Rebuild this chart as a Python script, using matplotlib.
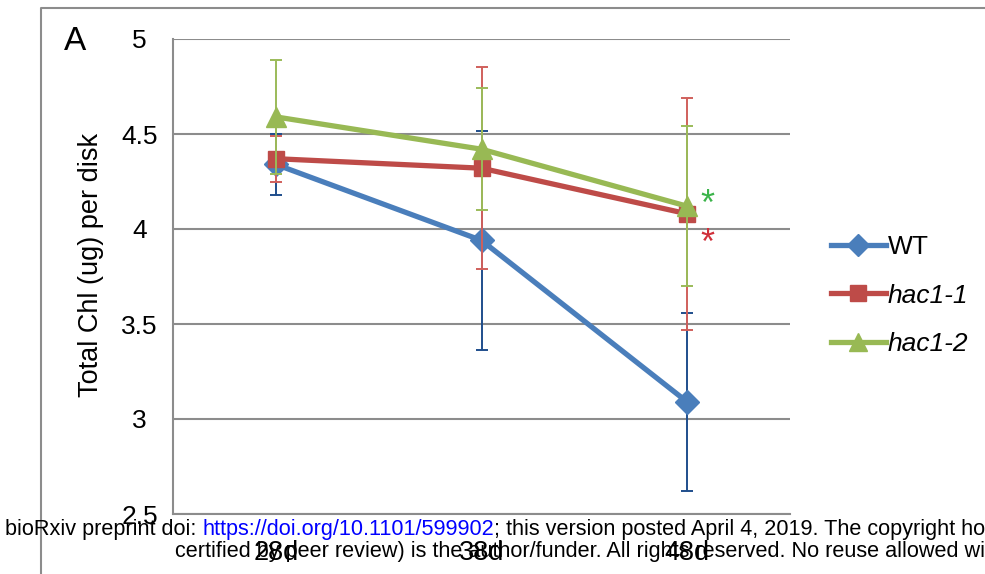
import matplotlib
matplotlib.use('Agg')
from matplotlib import pyplot as plt
from matplotlib.lines import Line2D
import numpy as np

plt.rcParams['font.family'] = ['Liberation Sans', 'DejaVu Sans']

days = ['28d', '38d', '48d']
series_names = ['WT', 'hac1-1', 'hac1-2']
wt_mean = [4.34, 3.94, 3.09]
wt_err = [0.16, 0.575, 0.47]
hac11_mean = [4.37, 4.32, 4.08]
hac11_err = [0.12, 0.53, 0.61]
hac12_mean = [4.59, 4.42, 4.12]
hac12_err = [0.30, 0.32, 0.42]

line_colors = ['#4A7EBB', '#BE4B48', '#98B954']
err_colors = ['#1F4E8C', '#D0605C', '#9BBB59']
markers = ['D', 's', '^']
msizes = [12, 12, 14]

fig = plt.figure(figsize=(9.85, 5.74), dpi=100)
ax = fig.add_axes([173 / 985, 1 - 514 / 574, 617 / 985, 475 / 574])

x = np.arange(len(days))
means = [wt_mean, hac11_mean, hac12_mean]
errs = [wt_err, hac11_err, hac12_err]
for k in range(3):
    ax.errorbar(x, means[k], yerr=errs[k], fmt='none', ecolor=err_colors[k],
                elinewidth=1.4, capsize=4.5, capthick=1.4, zorder=3 + 2 * k)
    ax.plot(x, means[k], color=line_colors[k], lw=3.8, marker=markers[k],
            ms=msizes[k], mec=line_colors[k], zorder=4 + 2 * k)

ax.set_xlim(-0.5, 2.5)
ax.set_ylim(2.5, 5)
ax.set_yticks([2.5, 3, 3.5, 4, 4.5, 5])
ax.set_yticklabels(['2.5', '3', '3.5', '4', '4.5', '5'])
ax.set_xticks(x)
ax.set_xticklabels(days)
ax.tick_params(axis='y', length=0, pad=24, labelsize=19)
for lab in ax.get_yticklabels():
    lab.set_horizontalalignment('center')
ax.tick_params(axis='x', length=0, pad=19, labelsize=19.5)
ax.grid(axis='y', color='#8C8C8C', lw=1.5)
ax.set_axisbelow(True)
for s in ['top', 'right']:
    ax.spines[s].set_visible(False)
for s in ['left', 'bottom']:
    ax.spines[s].set_color('#8C8C8C')
    ax.spines[s].set_linewidth(1.5)
ax.set_ylabel('Total Chl (ug) per disk', fontsize=19.5)
ax.yaxis.set_label_coords(-(173 - 104) / 617, (514 - 265) / 475)

ax.text(2.1, 4.125, '*', color='#3CB44B', fontsize=26, ha='center', va='center')
ax.text(2.1, 3.92, '*', color='#D0303A', fontsize=26, ha='center', va='center')

handles = []
for k in range(3):
    handles.append(Line2D([0], [0], color=line_colors[k], lw=3.8,
                          marker=markers[k], ms=msizes[k] - 1, mec=line_colors[k]))
leg = fig.legend(handles, ['WT', 'hac1-1', 'hac1-2'], loc='upper left',
                 bbox_to_anchor=(807 / 985, 1 - 211 / 574), frameon=False,
                 fontsize=19, handlelength=2.1, handletextpad=0.05,
                 labelspacing=0.94)
for t in leg.get_texts()[1:]:
    t.set_fontstyle('italic')

fig.text(75 / 985, 1 - 42 / 574, 'A', fontsize=24, ha='center', va='center')

# outer chart frame
frame = Line2D([41 / 985, 41 / 985, 1.0], [0, 1 - 8 / 574, 1 - 8 / 574],
               transform=fig.transFigure, color='#8C8C8C', lw=1.5)
fig.add_artist(frame)

wm_size = 15.6
t1 = fig.text(5 / 985, 1 - 530 / 574, 'bioRxiv preprint doi: ', fontsize=wm_size,
              va='center', ha='left')
fig.canvas.draw()
bb = t1.get_window_extent()
t2 = fig.text(bb.x1 / 985, 1 - 530 / 574, 'https://doi.org/10.1101/599902',
              fontsize=wm_size, va='center', ha='left', color='#0000FF')
fig.canvas.draw()
bb2 = t2.get_window_extent()
fig.text(bb2.x1 / 985, 1 - 530 / 574,
         '; this version posted April 4, 2019. The copyright hol',
         fontsize=wm_size, va='center', ha='left')
fig.text(175 / 985, 1 - 551 / 574,
         'certified by peer review) is the author/funder. All rights reserved. No reuse allowed with',
         fontsize=wm_size, va='center', ha='left')

fig.savefig('out.png', dpi=100)
